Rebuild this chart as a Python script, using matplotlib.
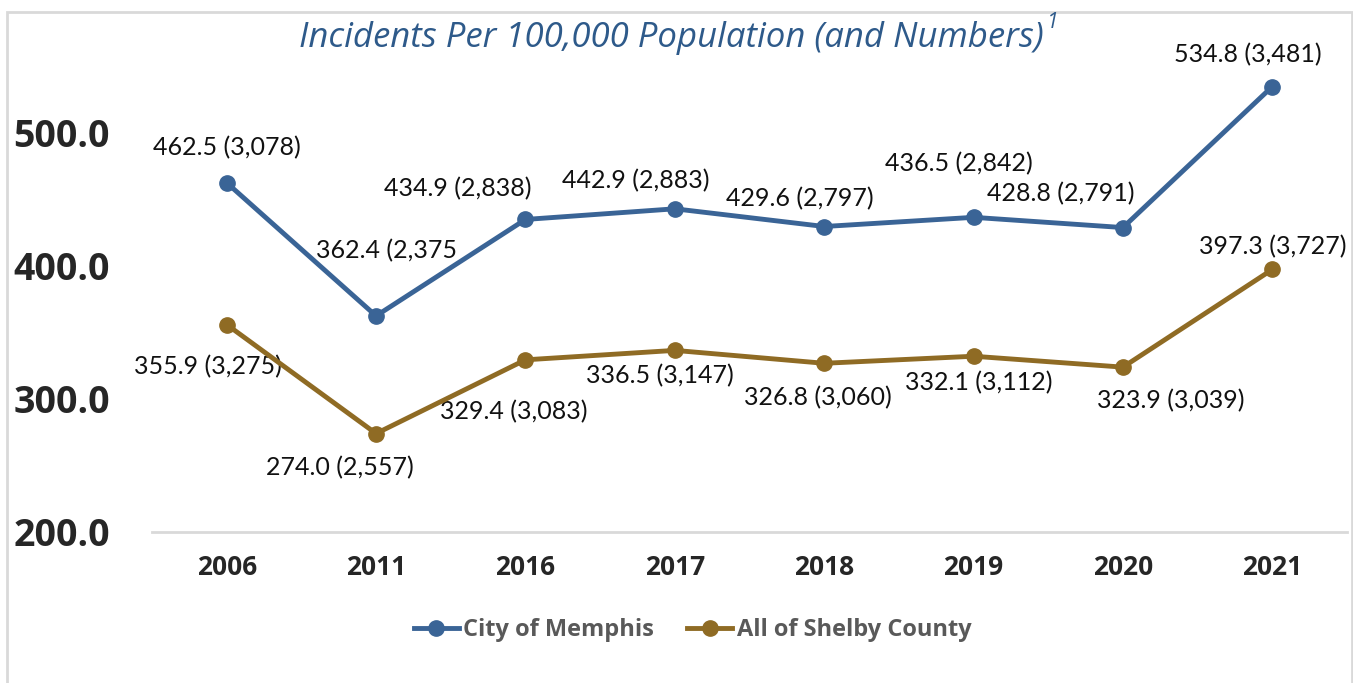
import matplotlib
matplotlib.use('Agg')
import matplotlib.pyplot as plt
from matplotlib.patches import Rectangle

years = ['2006', '2011', '2016', '2017', '2018', '2019', '2020', '2021']
memphis = [462.5, 362.4, 434.9, 442.9, 429.6, 436.5, 428.8, 534.8]
memphis_n = ['3,078', '2,375', '2,838', '2,883', '2,797', '2,842', '2,791', '3,481']
shelby = [355.9, 274.0, 329.4, 336.5, 326.8, 332.1, 323.9, 397.3]
shelby_n = ['3,275', '2,557', '3,083', '3,147', '3,060', '3,112', '3,039', '3,727']
yticks = [200, 300, 400, 500]

BLUE = '#3A6496'
GOLD = '#8F6B24'
FONT = ['Open Sans', 'DejaVu Sans']
LABFONT = ['Lato', 'DejaVu Sans']

plt.rcParams['font.family'] = FONT

fig = plt.figure(figsize=(13.53, 6.83), dpi=100)
# chart border (light gray, starts just inside the image)
fig.patches.append(Rectangle((7 / 1353, -0.01), (1352 - 7) / 1353, 1 - 12 / 683 + 0.01,
                             transform=fig.transFigure, fill=False,
                             edgecolor='#D9D9D9', lw=2))

ax = fig.add_axes([152 / 1353, (683 - 532) / 683, (1347 - 152) / 1353, (532 - 53) / 683])
x = list(range(len(years)))
ax.plot(x, memphis, color=BLUE, lw=3.5, marker='o', ms=11, label='City of Memphis', zorder=3)
ax.plot(x, shelby, color=GOLD, lw=3.5, marker='o', ms=11, label='All of Shelby County', zorder=3)

ax.set_xlim(-0.5, 7.5)
ax.set_ylim(200, 560)
ax.set_xticks(x)
ax.set_xticklabels(years, fontsize=19, fontweight='bold', color='#262626')
ax.set_yticks(yticks)
ax.set_yticklabels([f'{v:.1f}' for v in yticks], fontsize=27, fontweight='bold', color='#262626')
ax.tick_params(length=0)
ax.tick_params(axis='x', pad=16)
for s in ['top', 'right', 'left']:
    ax.spines[s].set_visible(False)
ax.spines['bottom'].set_color('#D9D9D9')
ax.spines['bottom'].set_linewidth(2)
for lab in ax.get_yticklabels():
    lab.set_horizontalalignment('left')
ax.tick_params(axis='y', pad=100)

# label offsets in pixels (dx, dy) relative to the point
m_off = [(0, 35), (10, 65), (-68, 31), (-39, 28), (-24, 28), (-15, 54), (-62, 34), (-24, 32)]
s_off = [(-19, -42), (-36, -34), (-12, -52), (-15, -25), (-6, -34), (5, -26), (48, -34), (0, 23)]

m_txt = [f'{v:.1f} ({n})' for v, n in zip(memphis, memphis_n)]
m_txt[1] = '362.4 (2,375'
for i in x:
    ax.annotate(m_txt[i], (i, memphis[i]), xytext=m_off[i], textcoords='offset pixels',
                ha='center', va='center', fontsize=18, family=LABFONT,
                color='#111111', zorder=2)
    ax.annotate(f'{shelby[i]:.1f} ({shelby_n[i]})', (i, shelby[i]), xytext=s_off[i],
                textcoords='offset pixels', ha='center', va='center', fontsize=18,
                family=LABFONT, color='#111111', zorder=2)

title = fig.text(0.496, 1 - 38 / 683, 'Incidents Per 100,000 Population (and Numbers)',
                 ha='center', va='center', fontsize=25, style='italic', color='#2E5A8A')
fig.canvas.draw()
bb = title.get_window_extent()
fig.text((bb.x1 + 4) / 1353, (bb.y1 - 2) / 683, '1', ha='left', va='center',
         fontsize=15, style='italic', color='#2E5A8A')

leg = fig.legend(loc='center', bbox_to_anchor=(0.512, 1 - 630 / 683), ncol=2, frameon=False,
                 prop={'size': 17, 'weight': 'bold', 'family': FONT},
                 handlelength=1.9, columnspacing=1.4, handletextpad=0.2)
for t in leg.get_texts():
    t.set_color('#595959')

fig.savefig('out.png', dpi=100)
